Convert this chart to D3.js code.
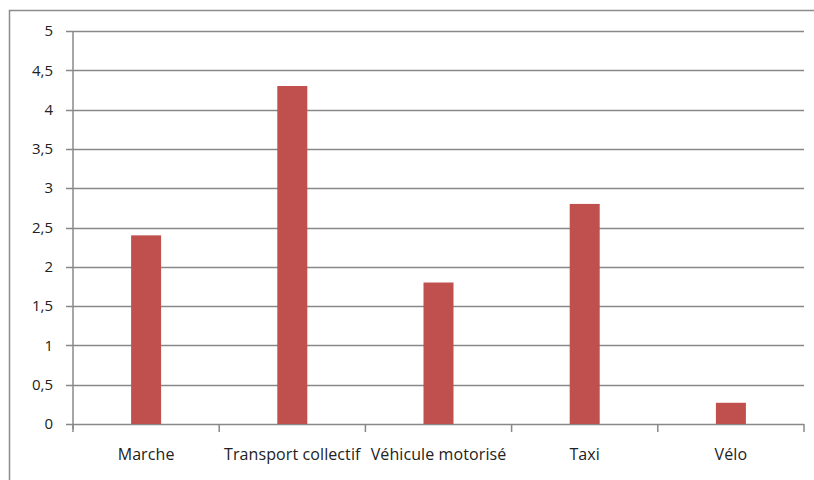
<!DOCTYPE html>
<html><head><meta charset="utf-8">
<script src="https://cdn.jsdelivr.net/npm/d3@7"></script>
<style>body{margin:0;background:#fff}svg{display:block}</style>
</head><body>
<script>
const categories = ["Marche", "Transport collectif", "Véhicule motorisé", "Taxi", "Vélo"];
const values = [2.4, 4.3, 1.8, 2.8, 0.27];
const yTicks = [0, 0.5, 1, 1.5, 2, 2.5, 3, 3.5, 4, 4.5, 5];
const fmt = d => String(d).replace(".", ",");

const W = 814, H = 480;
const svg = d3.select("body").append("svg").attr("width", W).attr("height", H);
svg.append("rect").attr("x", 9.5).attr("y", 10.5).attr("width", 820).attr("height", 480)
  .attr("fill", "none").attr("stroke", "#8c8c8c").attr("stroke-width", 1.5);

const mLeft = 73, mRight = 804, mTop = 31, mBottom = 424;
const x = d3.scaleBand().domain(categories).range([mLeft, mRight]).paddingInner(0).paddingOuter(0);
const y = d3.scaleLinear().domain([0, 5]).range([mBottom, mTop]);

const font = "'Open Sans', 'DejaVu Sans', sans-serif";
// gridlines
svg.append("g").selectAll("line").data(yTicks).join("line")
  .attr("x1", mLeft - 7).attr("x2", mRight).attr("y1", d => Math.round(y(d)) + 0.5).attr("y2", d => Math.round(y(d)) + 0.5)
  .attr("stroke", "#888").attr("stroke-width", 1.5);
// y axis line
svg.append("line").attr("x1", mLeft).attr("x2", mLeft).attr("y1", mTop).attr("y2", mBottom + 5)
  .attr("stroke", "#888").attr("stroke-width", 1.5);
// y labels
svg.append("g").selectAll("text").data(yTicks).join("text")
  .attr("x", 53).attr("y", d => y(d)).attr("dy", "0.35em").attr("text-anchor", "end")
  .attr("font-family", font).attr("font-size", 15).attr("font-weight", 500).attr("fill", "#222").text(fmt);
// x category ticks
const bounds = categories.map(c => x(c)).concat([mRight]);
svg.append("g").selectAll("line").data(bounds).join("line")
  .attr("x1", d => d).attr("x2", d => d).attr("y1", mBottom).attr("y2", mBottom + 8)
  .attr("stroke", "#888").attr("stroke-width", 1.5);
// bars
svg.append("g").selectAll("rect").data(values).join("rect")
  .attr("x", (d, i) => x(categories[i]) + x.bandwidth() / 2 - 15)
  .attr("width", 30)
  .attr("y", d => y(d)).attr("height", d => y(0) - y(d))
  .attr("fill", "#c0504d");
// x labels
svg.append("g").selectAll("text").data(categories).join("text")
  .attr("x", d => x(d) + x.bandwidth() / 2).attr("y", 460)
  .attr("text-anchor", "middle").attr("font-family", font).attr("font-size", 16).attr("font-weight", 500)
  .attr("letter-spacing", 0.1)
  .attr("fill", "#222").text(d => d);
</script>
</body></html>
